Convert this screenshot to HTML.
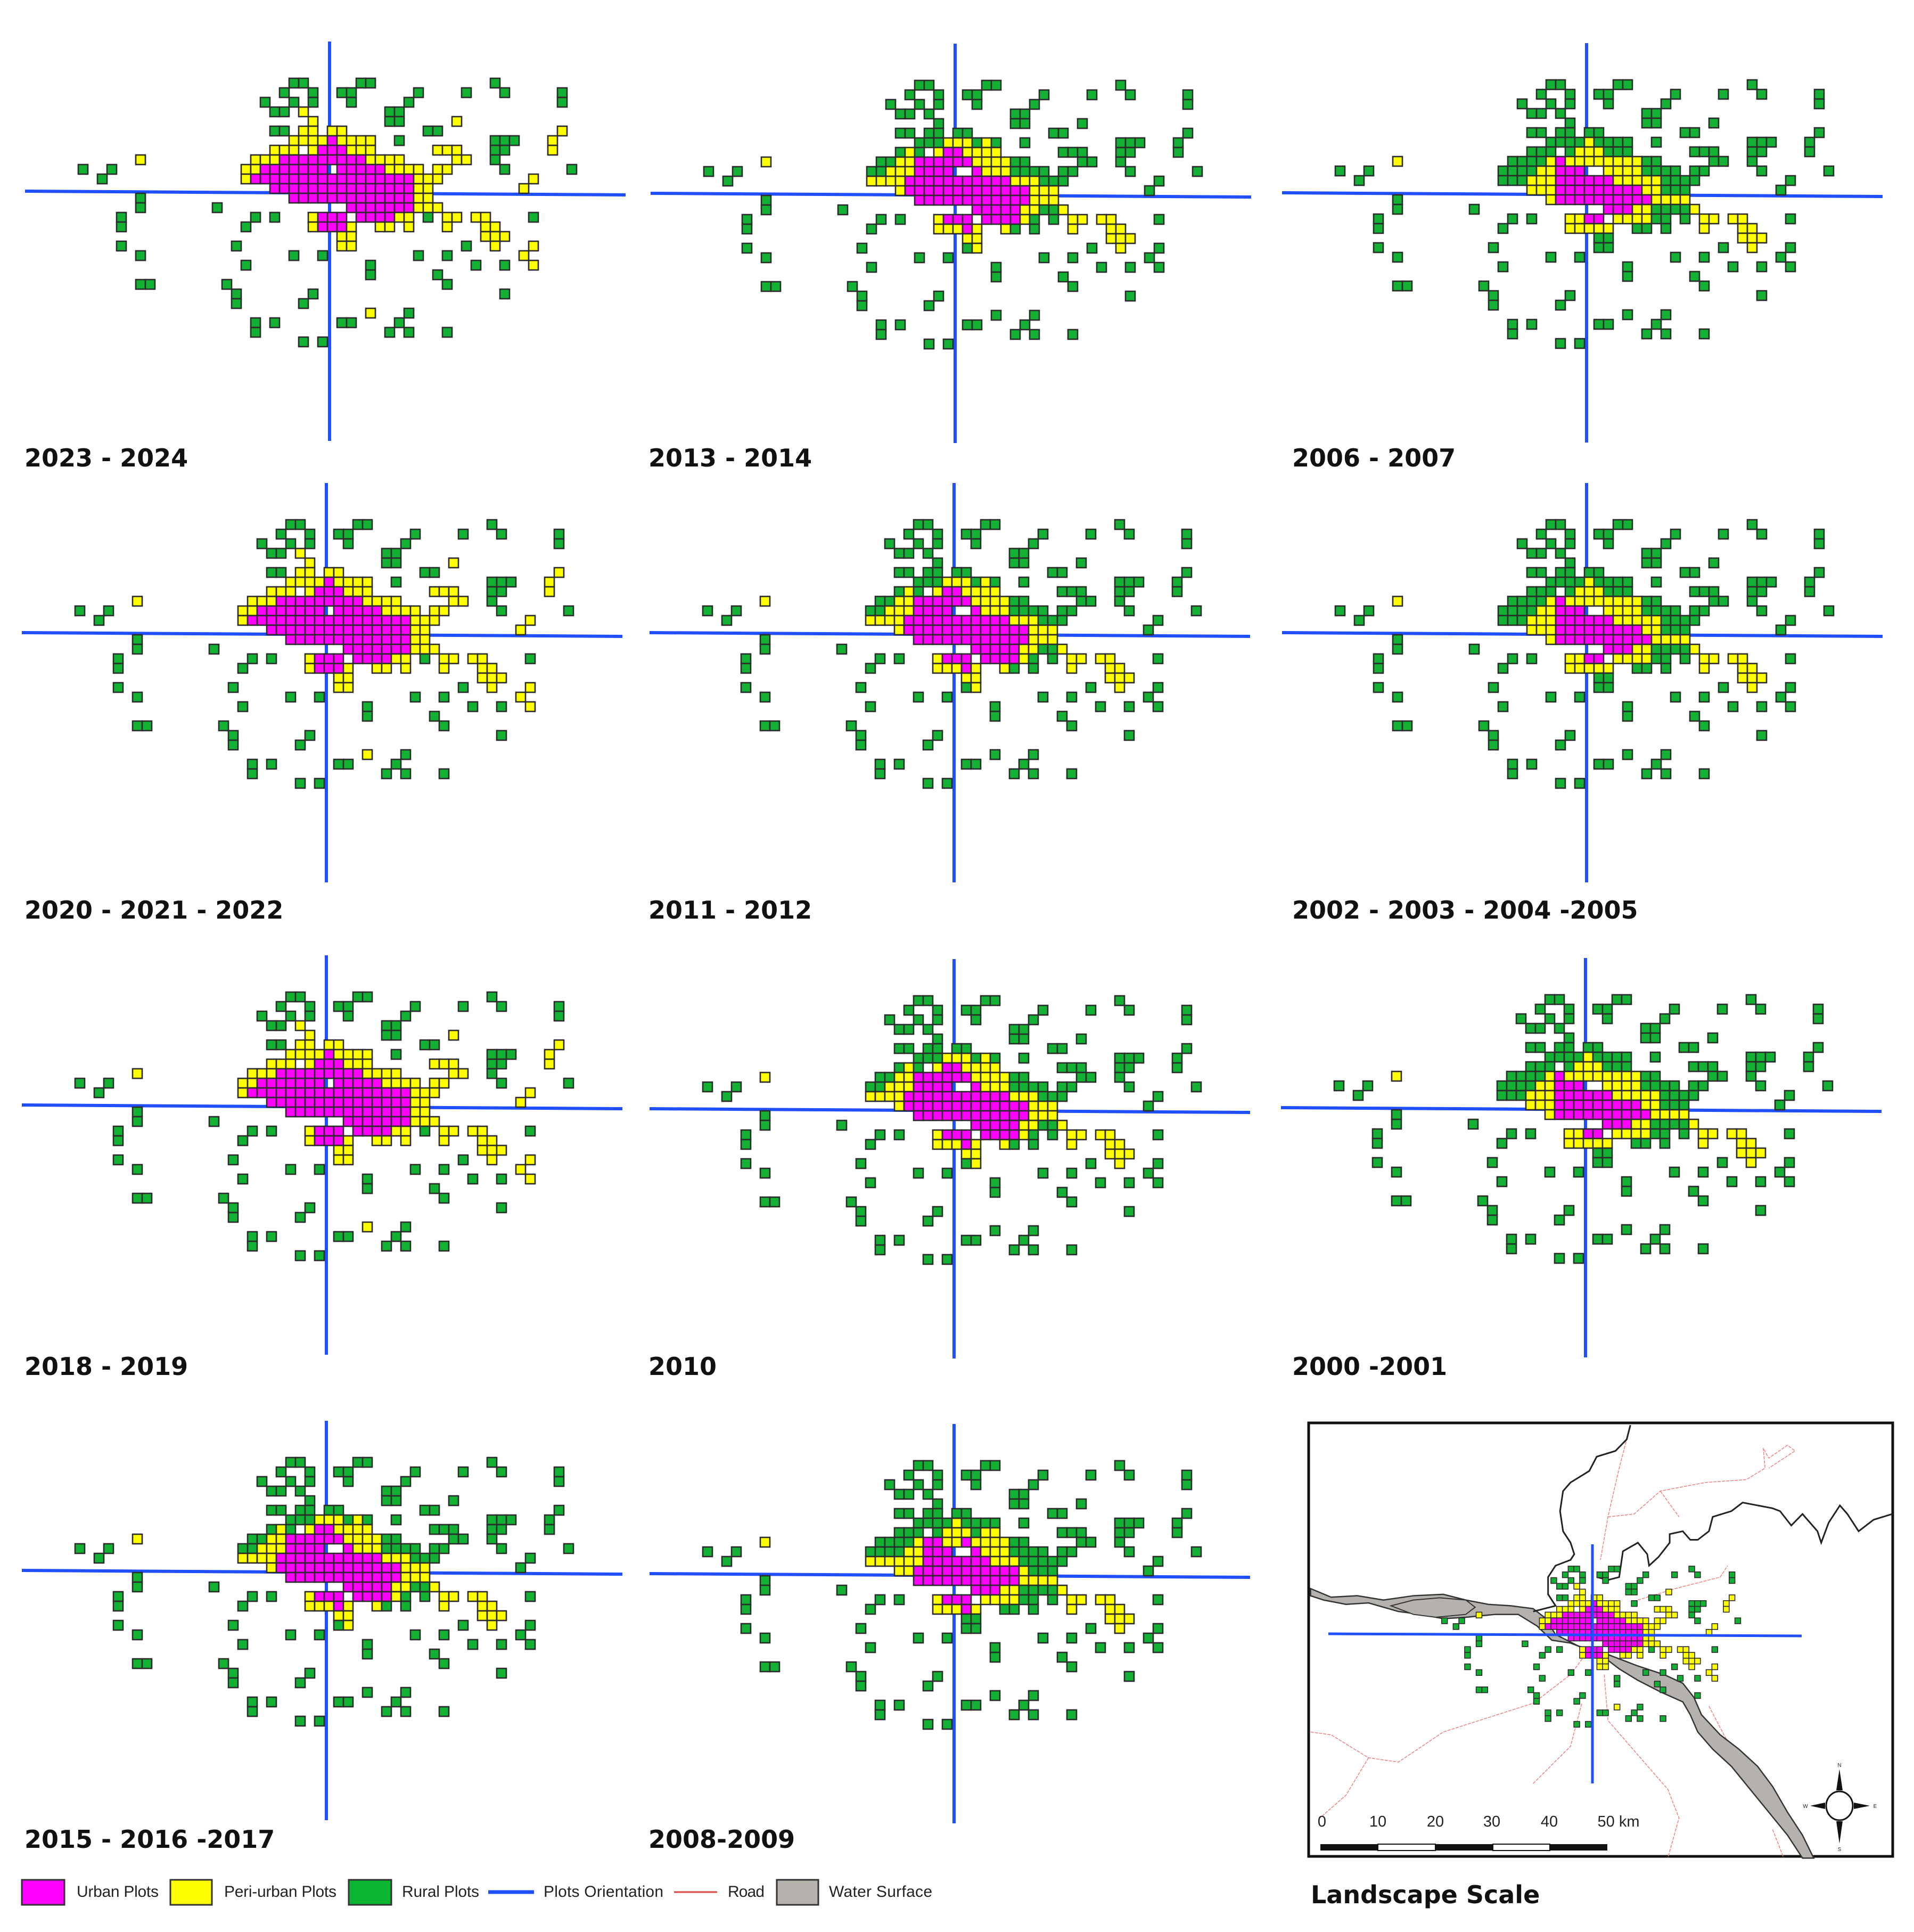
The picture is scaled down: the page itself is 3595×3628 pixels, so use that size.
<!DOCTYPE html>
<html><head><meta charset="utf-8">
<style>
html,body{margin:0;padding:0;background:#fff;}
svg{display:block;}
.t{font-family:"DejaVu Sans","Liberation Sans",sans-serif;font-weight:bold;fill:#111;}
.lg{font-family:"Liberation Sans","DejaVu Sans",sans-serif;fill:#222;}
</style></head>
<body>
<svg id="fig" xmlns="http://www.w3.org/2000/svg" width="3595" height="3628" viewBox="0 0 3595 3628">
<rect width="3595" height="3628" fill="#fff"/>
<g id="panels"></g>
<g id="inset">
  <rect x="2458" y="2672" width="1097" height="814" fill="#fff" stroke="#111" stroke-width="5"/>
  <g transform="translate(2458,2660) scale(0.7027,0.5385)">
    <g fill="none" stroke="#f08080" stroke-width="1.5" stroke-dasharray="6 2">
      <polyline vector-effect="non-scaling-stroke" points="860,30 830,180 800,350 780,500"/>
      <polyline vector-effect="non-scaling-stroke" points="800,350 870,340 940,260 1060,230 1170,220 1220,180 1215,110 1230,145 1280,100 1300,120 1230,180"/>
      <polyline vector-effect="non-scaling-stroke" points="940,260 990,350"/>
      <polyline vector-effect="non-scaling-stroke" points="5,1100 60,1110 160,1190 240,1205 360,1100 480,1050 600,1000 700,900 740,830"/>
      <polyline vector-effect="non-scaling-stroke" points="160,1190 100,1320 30,1400"/>
      <polyline vector-effect="non-scaling-stroke" points="600,1280 700,1150 730,1000"/>
      <polyline vector-effect="non-scaling-stroke" points="790,900 800,1060 860,1150 960,1300 990,1400 960,1540"/>
      <polyline vector-effect="non-scaling-stroke" points="1070,1010 1110,1110 1150,1200"/>
      <polyline vector-effect="non-scaling-stroke" points="1240,1440 1270,1540"/>
      <polyline vector-effect="non-scaling-stroke" points="880,640 980,600 1100,560 1120,520"/>
    </g>
    <polygon fill="#b5b2ae" stroke="#333" stroke-width="2.5" vector-effect="non-scaling-stroke"
      points="5,600 60,630 130,625 200,640 280,625 360,620 420,640 480,655 540,660 600,670 630,700 660,760 720,800 800,830 880,870 950,900 1000,930 1030,980 1050,1040 1100,1110 1150,1160 1200,1220 1240,1290 1280,1380 1320,1460 1350,1540 1320,1540 1280,1460 1230,1380 1180,1300 1130,1220 1080,1160 1040,1100 1020,1040 1000,995 940,960 880,920 830,880 780,830 700,790 650,780 610,730 560,690 500,690 420,700 360,705 300,690 240,680 160,650 100,655 40,640 5,625"/>
    <polygon fill="#b5b2ae" stroke="#333" stroke-width="2" vector-effect="non-scaling-stroke" points="220,660 280,640 350,632 420,640 445,665 420,690 340,700 280,690"/>
    <polyline fill="none" stroke="#222" stroke-width="3" vector-effect="non-scaling-stroke"
      points="860,30 850,80 820,120 770,140 750,190 700,230 680,260 672,330 680,400 700,440 710,480 700,500 660,520 640,560 640,620 660,660 600,680"/>
    <polyline fill="none" stroke="#222" stroke-width="3" vector-effect="non-scaling-stroke"
      points="770,560 800,570 830,560 840,470 880,440 905,480 910,520 935,490 965,440 965,410 1000,400 1020,430 1040,430 1070,400 1080,350 1130,330 1160,300 1200,310 1240,320 1260,330 1290,380 1320,340 1360,400 1370,440 1390,370 1420,310 1440,340 1470,400 1510,360 1560,340"/>
  </g>
  <g id="insetPlots"></g>
  <g>
    <rect x="2480" y="3463" width="108" height="12" fill="#111"/>
    <rect x="2588" y="3463" width="108" height="12" fill="#fff" stroke="#111" stroke-width="2"/>
    <rect x="2696" y="3463" width="108" height="12" fill="#111"/>
    <rect x="2804" y="3463" width="107" height="12" fill="#fff" stroke="#111" stroke-width="2"/>
    <rect x="2911" y="3463" width="108" height="12" fill="#111"/>
    <g class="lg" font-size="29" text-anchor="middle">
      <text x="2483" y="3430">0</text><text x="2588" y="3430">10</text><text x="2696" y="3430">20</text>
      <text x="2802" y="3430">30</text><text x="2910" y="3430">40</text><text x="3040" y="3430">50 km</text>
    </g>
  </g>
  <g fill="#111">
    <ellipse cx="3455" cy="3391" rx="25" ry="27" fill="#fff" stroke="#111" stroke-width="3"/>
    <polygon points="3455,3322 3449,3362 3461,3362"/>
    <polygon points="3455,3462 3449,3420 3461,3420"/>
    <polygon points="3400,3391 3428,3385 3428,3397"/>
    <polygon points="3512,3391 3482,3385 3482,3397"/>
    <text class="lg" x="3455" y="3318" font-size="10" text-anchor="middle">N</text>
    <text class="lg" x="3455" y="3476" font-size="10" text-anchor="middle">S</text>
    <text class="lg" x="3391" y="3395" font-size="10" text-anchor="middle">W</text>
    <text class="lg" x="3522" y="3395" font-size="10" text-anchor="middle">E</text>
  </g>
  <text class="t" x="2462" y="3574" font-size="46">Landscape Scale</text>
</g>
<g id="legend">
  <g><rect x="41" y="3530" width="80" height="47" fill="#ff00ff" stroke="#333" stroke-width="3"/><text class="lg" x="144" y="3562" font-size="30" textLength="154">Urban Plots</text></g>
  <g><rect x="320" y="3530" width="78" height="47" fill="#ffff00" stroke="#333" stroke-width="3"/><text class="lg" x="421" y="3562" font-size="30" textLength="211">Peri-urban Plots</text></g>
  <g><rect x="655" y="3530" width="80" height="47" fill="#0ab531" stroke="#333" stroke-width="3"/><text class="lg" x="755" y="3562" font-size="30" textLength="145">Rural Plots</text></g>
  <g><line x1="917" y1="3553" x2="1003" y2="3553" stroke="#1f4fff" stroke-width="7"/><text class="lg" x="1021" y="3562" font-size="30" textLength="225">Plots Orientation</text></g>
  <g><line x1="1266" y1="3553" x2="1347" y2="3553" stroke="#e04040" stroke-width="3"/><text class="lg" x="1367" y="3562" font-size="30" textLength="69">Road</text></g>
  <g><rect x="1459" y="3530" width="78" height="47" fill="#b5b2ae" stroke="#333" stroke-width="3"/><text class="lg" x="1557" y="3562" font-size="30" textLength="194">Water Surface</text></g>
</g>
</svg>
<script>
// ---- data ----
const panelTitles = ["2023 - 2024","2020 - 2021 - 2022","2018 - 2019","2015 - 2016 -2017","2013 - 2014","2011 - 2012","2010","2008-2009","2006 - 2007","2002 - 2003 - 2004 -2005","2000 -2001"];
const panelMapIds = ["A","A","A","B","B","B","B","D","C","C","C"];
const panelAxisX = [619,613,613,613,1794,1792,1792,1792,2980,2980,2978];
const panelAxisY = [362,1191,2078,2952,366,1191,2085,2958,365,1191,2083];
const titleX = [46,46,46,46,1218,1218,1218,1218,2427,2427,2427];
const titleY = [876,1725,2582,3470,876,1725,2582,3470,876,1725,2582];
// rows j=0..27; tokens: colour + column (k) or range k1:k2
const sharedTop = ["G5:6 G12:13 G26","G4 G7 G10:11 G18 G23 G27 G33","G2 G5 G7 G11 G17 G33"];
const sharedBottomA = ["G-11 G5 G8 G18 G21 Y29","G0 G13 G24 G27 Y30","G13 G20","G-11:-10 G-2 G21","G-1 G7 G27","G-1 G6","Y13 G17","G1 G3 G10:11 G16","G1 G15 G17 G21","G6 G8"];
const sharedBottomB = ["G-11 G5 G8 G18 G21 G29","G0 G13 G24 G27 G30","G13 G20","G-11:-10 G-2 G21","G-1 G7 G27","G-1 G6","G13 G17","G1 G3 G10:11 G16","G1 G15 G17 G21","G6 G8"];
const coreA = ["G3:4 Y6 G15:16","Y7 G15:16 Y22","G3:4 Y6:7 Y9:10 G19:20 Y33","Y5:8 P9 Y10:13 G16 G26:28 Y32","Y3:5 Y7 P8:10 Y11:13 Y20:22 G26:27 Y32","Y-11 Y1:3 P4:12 Y13:16 Y22:23 G26","G-17 G-14 Y0:1 P2:8 P10:14 Y15:18 Y20:21 G27 G34","G-15 Y0 P1:17 Y18:20 Y30","P3:17 Y18:19 Y29","G-11 P5:17 Y18:19","G-11 G-3 P11:17 Y18:20","G-13 G1 G3 Y7 P8:10 P12:15 Y16:17 G19 Y21:22 Y24:25 G30","G-13 G0 Y7 P8:10 Y11 Y14:15 Y17 Y21 Y25:26","Y10:11 Y25:27","G-13 G-1 Y10:11 G23 Y26 Y30"];
const coreB = ["G3:4 G6 G15:16","G7 G15:16 G22","G3:4 G6:7 G9:10 G19:20 G33","G5:7 Y8:10 G11 Y12 G13 G16 G26:28 G32","G3 Y4 G5 Y7 P8:9 Y10:13 G20:22 G26:27 G32","Y-11 G1:2 Y3:4 P5:10 Y11:14 G15:16 G22:23 G26","G-17 G-14 G0:1 Y2:4 P5:8 P11 Y12:14 G15:18 G20:21 G27 G34","G-15 Y0:3 P4:14 Y15:17 G18:20 G30","Y3 P4:16 Y17:19 G29","G-11 P5:16 Y17:19","G-11 G-3 P11:15 Y16:17 G18:19 Y20","G-13 G1 G3 Y7 P8:10 P12:15 Y16 G17 G19 Y21:22 Y24:25 G30","G-13 G0 Y7:9 P10 Y11 Y14 G15 G17 Y21 Y25:26","Y10:11 Y25:27","G-13 G-1 G10 Y11 G23 Y26 G30"];
const coreC = ["G3:4 G6 G15:16","G7 G15:16 G22","G3:4 G6:7 G9:10 G19:20 G33","G5:8 Y9 G10:13 G16 G26:28 G32","G3:5 G7 Y8:10 G11:13 G20:22 G26:27 G32","Y-11 G1:4 Y5 P6 Y7:14 G15:16 G22:23 G26","G-17 G-14 G0:3 Y4:5 P6:8 Y11:14 G15:18 G20:21 G27 G34","G-15 G0:2 Y3:5 P6:11 Y12:16 G17:20 G30","Y3:5 P6:14 Y15:16 G17:19 G29","G-11 Y5 P6:15 Y16:19","G-11 G-3 P11:13 Y14:15 G16:19 Y20","G-13 G1 G3 Y7:8 P9:10 Y12:15 G16:17 G19 Y21:22 Y24:25 G30","G-13 G0 Y7:11 G14:15 G17 Y21 Y25:26","G10:11 Y25:27","G-13 G-1 G10:11 G23 Y26 G30"];
const coreD = ["G3:4 G6 G15:16","G7 G15:16 G22","G3:4 G6:7 G9:10 G19:20 G33","G5:8 Y9 G10:13 G16 G26:28 G32","G3:5 G7 Y8:10 G11 Y12:13 G20:22 G26:27 G32","Y-11 G1:4 Y5 P6:7 Y8:9 P10 Y11:14 G15:16 G22:23 G26","G-17 G-14 G0:3 Y4:5 P6:8 P11 Y12:14 G15:18 G20:21 G27 G34","G-15 Y0:5 P6:12 Y13:15 G16:20 G30","Y3:4 P5:15 Y16 G17:19 G29","G-11 P5:15 Y16:19","G-11 G-3 P11:13 Y14:15 G16:19 Y20","G-13 G1 G3 Y7 P8:10 Y12:15 G16:17 G19 Y21:22 Y24:25 G30","G-13 G0 Y7:9 P10 Y11 G14:15 G17 Y21 Y25:26","G10:11 Y25:27","G-13 G-1 G10:11 G23 Y26 G30"];

const maps = {
  A: sharedTop.concat(coreA, sharedBottomA),
  B: sharedTop.concat(coreB, sharedBottomB),
  C: sharedTop.concat(coreC, sharedBottomB),
  D: sharedTop.concat(coreD, sharedBottomB)
};
const COLORS = {P:"#ff00ff", Y:"#ffff00", G:"#12b033"};
const NS = "http://www.w3.org/2000/svg";
function mk(tag, attrs, parent){
  const e = document.createElementNS(NS, tag);
  for (const k in attrs) e.setAttribute(k, attrs[k]);
  parent.appendChild(e);
  return e;
}
function parseRow(spec){
  const out = [];
  spec.trim().split(/\s+/).forEach(tok => {
    if (!tok) return;
    const c = tok[0];
    const rest = tok.slice(1);
    const m = rest.match(/^(-?\d+)(?::(-?\d+))?$/);
    if (!m) return;
    const a = +m[1], b = m[2] !== undefined ? +m[2] : a;
    for (let k = a; k <= b; k++) out.push([k, c]);
  });
  return out;
}
function drawCells(parent, rows, ax, ay, pitch, sw){
  const s = pitch / 18;
  rows.forEach((spec, j) => {
    parseRow(spec).forEach(([k, c]) => {
      const r = mk("rect", {x: ax + (18*k - 166)*s, y: ay + (18*j - 215)*s, width: pitch, height: pitch,
        fill: COLORS[c], stroke: "#2b2b2b", "stroke-width": sw}, parent);
      
      
    });
  });
}
const panelsG = document.getElementById("panels");
panelTitles.forEach((title, i) => {
  const g = mk("g", {}, panelsG);
  
  
  const ax = panelAxisX[i], ay = panelAxisY[i];
  const h = mk("line", {x1: ax - 572, y1: ay - 3, x2: ax + 556, y2: ay + 4, stroke: "#1f4fff", "stroke-width": 6}, g);
  
  
  const v = mk("line", {x1: ax, y1: ay - 284, x2: ax, y2: ay + 466, stroke: "#1f4fff", "stroke-width": 6}, g);
  
  
  drawCells(g, maps[panelMapIds[i]], ax, ay, 18, 2.6);
  const t = mk("text", {x: titleX[i], y: titleY[i], "font-size": 46, class: "t"}, g);
  t.textContent = title;
  
  
});
// inset plots
const ig = document.getElementById("insetPlots");
drawCells(ig, maps.A, 2991, 3070, 10.8, 1.6);
const ih = mk("line", {x1: 2495, y1: 3068, x2: 3384, y2: 3072, stroke: "#1f4fff", "stroke-width": 5}, ig);


const iv = mk("line", {x1: 2991, y1: 2900, x2: 2991, y2: 3349, stroke: "#1f4fff", "stroke-width": 5}, ig);


</script>
</body></html>
